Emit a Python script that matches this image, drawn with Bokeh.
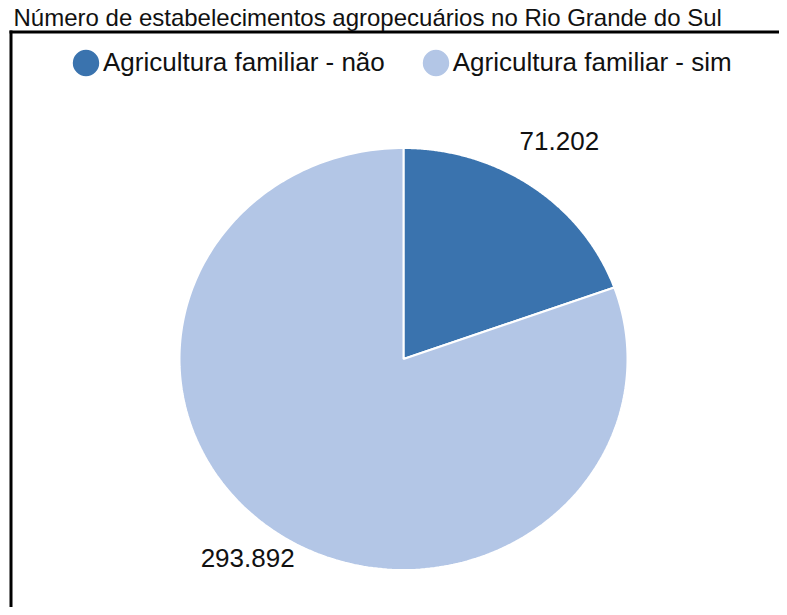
import numpy as np
from bokeh.plotting import figure
from bokeh.models import (ColumnDataSource, Range1d, Legend, LegendItem,
                          BoxAnnotation, Label)
from bokeh.core.properties import value
from bokeh.embed import file_html
from bokeh.resources import INLINE

# ---- data ----
title_text = "Número de estabelecimentos agropecuários no Rio Grande do Sul"
categories = ["Agricultura familiar - não", "Agricultura familiar - sim"]
counts = [71202, 293892]
colors = ["#3a73ae", "#b3c6e6"]

FONT = "Liberation Sans"
W, H = 779, 607
cx, cy = 403.0, 358.5     # pie centre in canvas px
rx, ry = 224.0, 211.0     # pie radii in px (reference is slightly stretched)


def dx(px):
    return (px - cx) / rx


def dy(py):
    return (cy - py) / ry


p = figure(width=W, height=H, output_backend="svg", toolbar_location=None,
           x_range=Range1d(dx(0), dx(W)), y_range=Range1d(dy(H), dy(0)),
           min_border=0, outline_line_color=None,
           background_fill_color="white", border_fill_color="white")
p.axis.visible = False
p.grid.visible = False

# ---- legend glyph renderers (hidden under the pie centre) ----
legend_renderers = []
for col in colors:
    r = p.ellipse(x=[0], y=[0], width=26, height=26, width_units="screen",
                  height_units="screen", fill_color=col, line_color=None)
    legend_renderers.append(r)

# ---- pie slices (clockwise from 12 o'clock) ----
vals = np.array(counts, dtype=float)
ends = np.cumsum(vals) / vals.sum() * 2 * np.pi
starts = np.concatenate([[0.0], ends[:-1]])
xs, ys = [], []
for a0, a1 in zip(starts, ends):
    t = np.linspace(a0, a1, 240)
    xs.append(np.concatenate([[0.0], np.sin(t), [0.0]]).tolist())
    ys.append(np.concatenate([[0.0], np.cos(t), [0.0]]).tolist())
src = ColumnDataSource(dict(xs=xs, ys=ys, color=colors, cat=categories))
p.patches("xs", "ys", source=src, fill_color="color", line_color="white",
          line_width=2)

# ---- value labels ----
mid = (starts + ends) / 2
lab_r = 1.21
labels = [f"{c:,}".replace(",", ".") for c in counts]
lsrc = ColumnDataSource(dict(x=(lab_r * np.sin(mid)).tolist(),
                             y=(lab_r * np.cos(mid)).tolist(), t=labels))
p.text("x", "y", text="t", source=lsrc, text_font=value(FONT),
       text_font_size=value("26px"), text_color="#111111",
       text_align="center", text_baseline="middle", y_offset=-9.5)

# ---- legend ----
items = [LegendItem(label=c, renderers=[r])
         for c, r in zip(categories, legend_renderers)]
legend = Legend(items=items, orientation="horizontal",
                location=(69, H - 45.5 - 33),
                glyph_width=33, glyph_height=33, label_standoff=1,
                spacing=34, padding=0, margin=0,
                label_text_font=FONT, label_text_font_size="26px",
                label_text_color="#111111", label_text_baseline="middle",
                border_line_color=None, background_fill_alpha=0)
p.add_layout(legend)

# ---- chart border (left/top visible; right/bottom run off the page) ----
p.add_layout(BoxAnnotation(left=dx(9), right=dx(12), top=dy(30), bottom=None,
                           fill_color="black", fill_alpha=1, line_color=None))
p.add_layout(BoxAnnotation(left=dx(9), right=None, top=dy(30), bottom=dy(33),
                           fill_color="black", fill_alpha=1, line_color=None))

# ---- title ----
p.add_layout(Label(x=13, y=H - 3, x_units="screen", y_units="screen",
                   text=title_text, text_font=FONT, text_font_size="24px",
                   text_color="#111111", text_baseline="top"))

open("out.html", "w").write(file_html(p, INLINE))
